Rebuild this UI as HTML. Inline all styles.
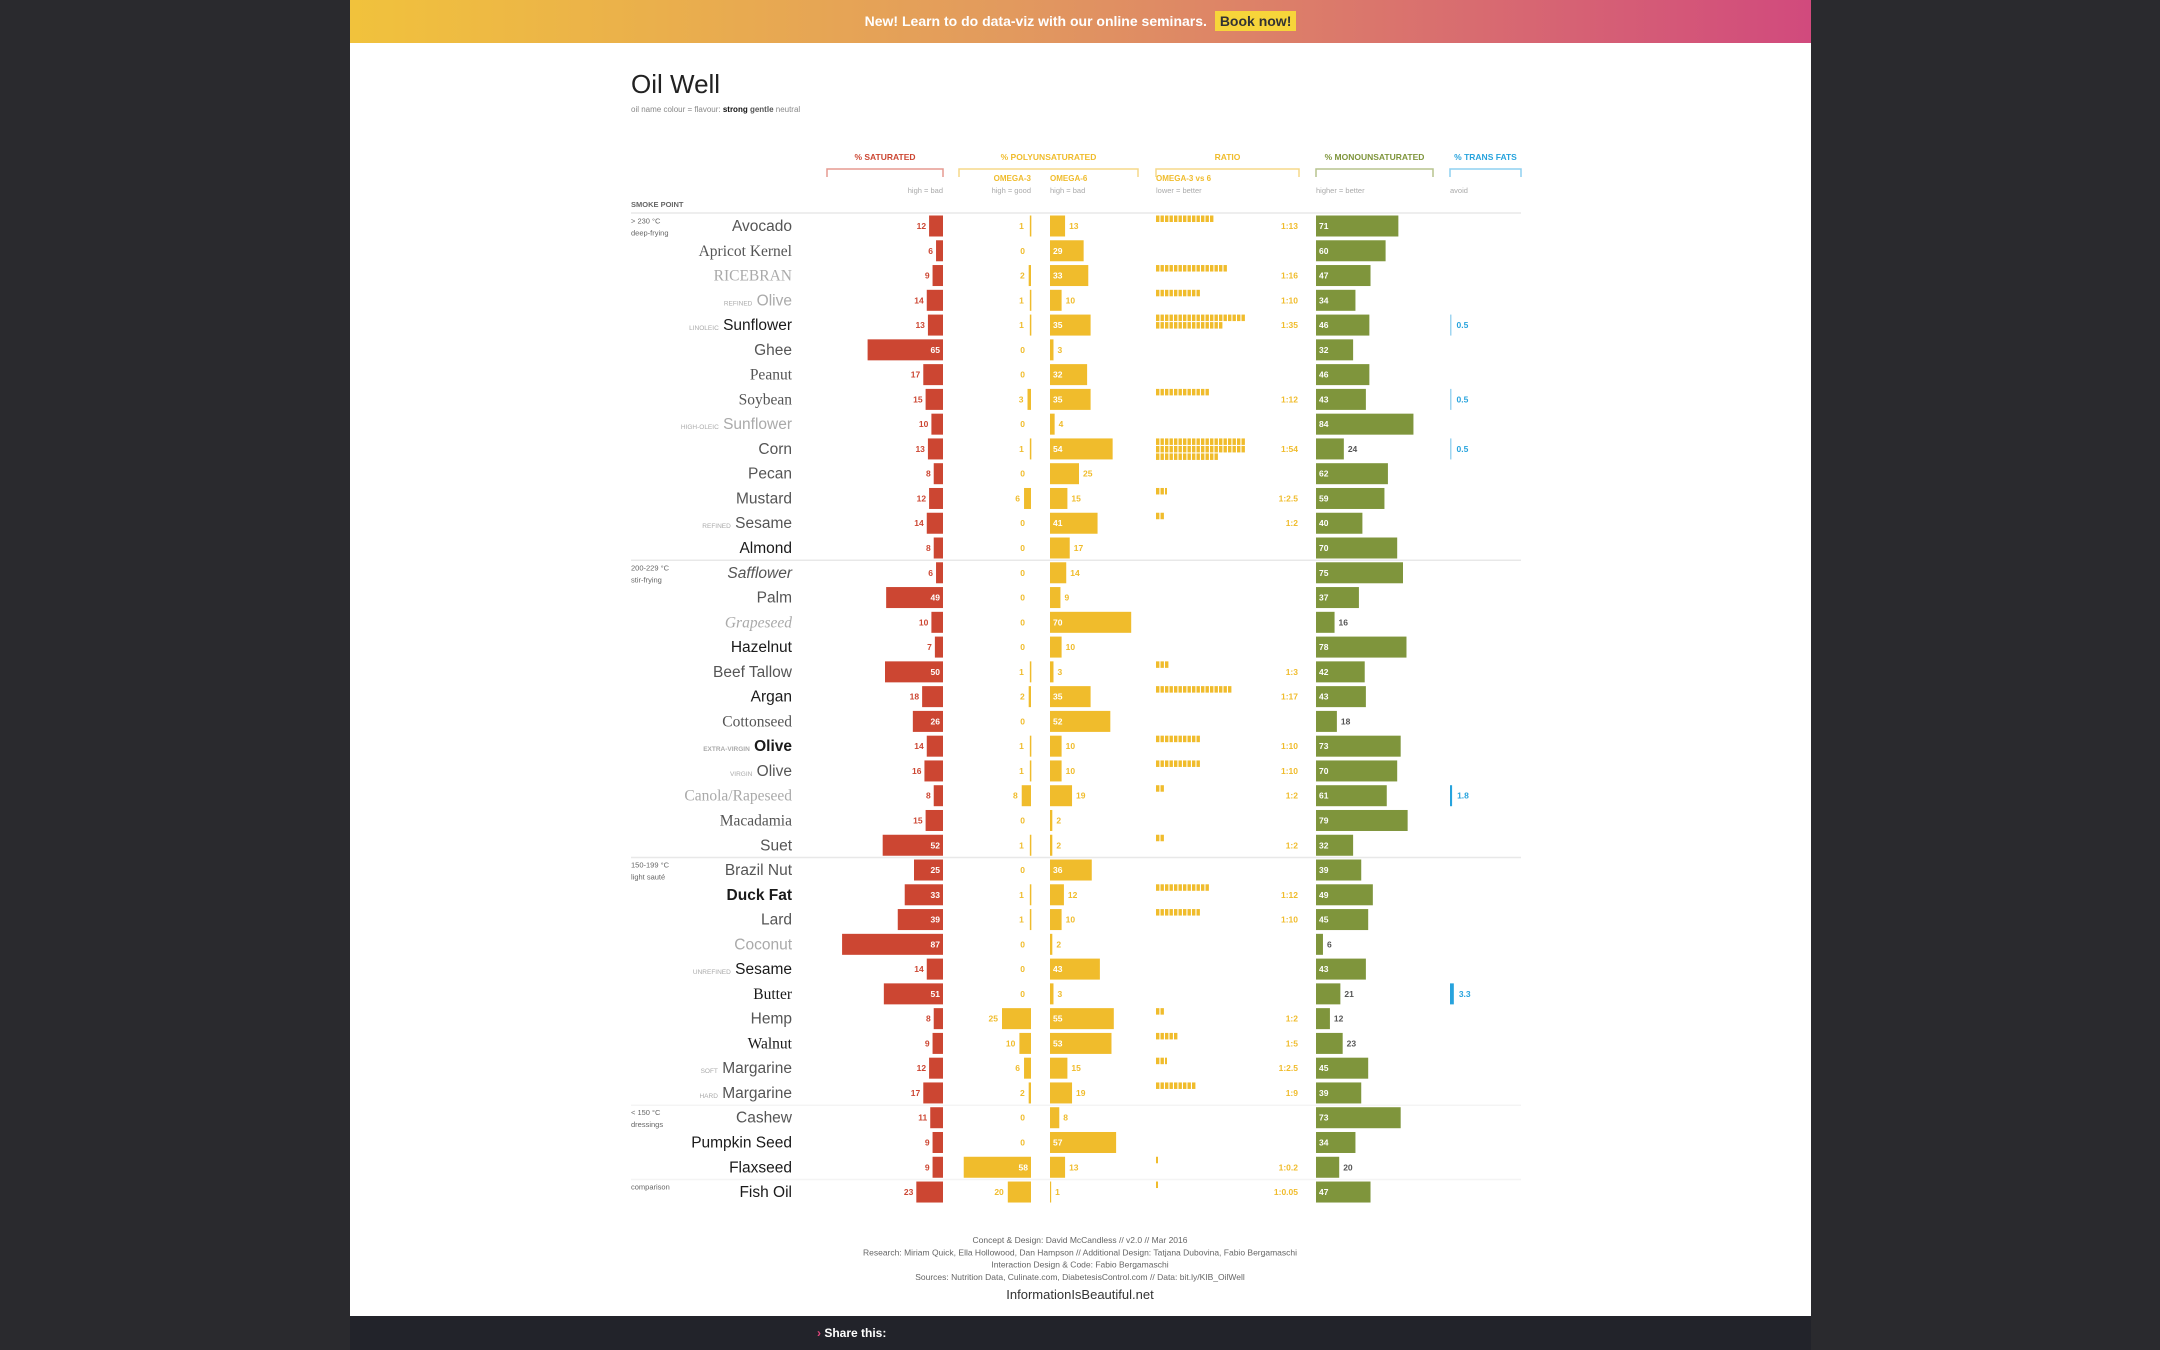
<!DOCTYPE html>
<html><head><meta charset="utf-8">
<style>
html,body{margin:0;padding:0;background:#2a2a2e;}
body{width:2160px;height:1350px;position:relative;overflow:hidden;font-family:"Liberation Sans",sans-serif;}
#page{position:absolute;left:350px;top:0;width:1461px;height:1316px;background:#fff;}
#banner{position:absolute;left:350px;top:0;width:1461px;height:43px;background:linear-gradient(90deg,#f1c23c 0%,#e29a5e 45%,#d14a7d 100%);color:#fff;font-size:14px;font-weight:bold;text-align:center;line-height:43px;}
#banner span.book{background:#f7d53a;color:#333;padding:2px 5px;margin-left:4px;}
#footbar{position:absolute;left:350px;top:1316px;width:1461px;height:34px;background:#22232a;color:#fff;font-size:12px;font-weight:bold;}
svg{position:absolute;left:0;top:0;}
</style></head>
<body>
<div id="page"></div>
<div id="banner">New! Learn to do data-viz with our online seminars. <span class="book">Book now!</span></div>
<div id="footbar"><span style="position:absolute;left:467px;top:10px"><span style="color:#e0457b">›</span> Share this:</span></div>
<svg id="chart" width="2160" height="1350"></svg>
<script>
const names=["Avocado","Apricot Kernel","RICEBRAN","Olive","Sunflower","Ghee","Peanut","Soybean","Sunflower","Corn","Pecan","Mustard","Sesame","Almond","Safflower","Palm","Grapeseed","Hazelnut","Beef Tallow","Argan","Cottonseed","Olive","Olive","Canola/Rapeseed","Macadamia","Suet","Brazil Nut","Duck Fat","Lard","Coconut","Sesame","Butter","Hemp","Walnut","Margarine","Margarine","Cashew","Pumpkin Seed","Flaxseed","Fish Oil"];
const prefixes=["","","","REFINED","LINOLEIC","","","","HIGH-OLEIC","","","","REFINED","","","","","","","","","EXTRA-VIRGIN","VIRGIN","","","","","","","","UNREFINED","","","","SOFT","HARD","","","",""];
const flavour=["g","g","n","n","s","g","g","g","n","g","g","g","g","s","g","g","n","s","g","s","g","s","g","n","g","g","g","s","g","n","s","s","g","s","g","g","g","s","s","s"];
const saturated=[12,6,9,14,13,65,17,15,10,13,8,12,14,8,6,49,10,7,50,18,26,14,16,8,15,52,25,33,39,87,14,51,8,9,12,17,11,9,9,23];
const omega3=[1,0,2,1,1,0,0,3,0,1,0,6,0,0,0,0,0,0,1,2,0,1,1,8,0,1,0,1,1,0,0,0,25,10,6,2,0,0,58,20];
const omega6=[13,29,33,10,35,3,32,35,4,54,25,15,41,17,14,9,70,10,3,35,52,10,10,19,2,2,36,12,10,2,43,3,55,53,15,19,8,57,13,1];
const mono=[71,60,47,34,46,32,46,43,84,24,62,59,40,70,75,37,16,78,42,43,18,73,70,61,79,32,39,49,45,6,43,21,12,23,45,39,73,34,20,47];
const trans=[0,0,0,0,0.5,0,0,0.5,0,0.5,0,0,0,0,0,0,0,0,0,0,0,0,0,1.8,0,0,0,0,0,0,0,3.3,0,0,0,0,0,0,0,0];
const ratio=[13,0,16,10,35,0,0,12,0,54,0,2.5,2,0,0,0,0,0,3,17,0,10,10,2,0,2,0,12,10,0,0,0,2,5,2.5,9,0,0,0.2,0.05];
const groupLabels=["> 230 °C","200-229 °C","150-199 °C","< 150 °C","comparison"];
const groupSub=["deep-frying","stir-frying","light sauté","dressings",""];
const groupStart=[0,14,26,36,39];

const NS="http://www.w3.org/2000/svg";
const svg=document.getElementById('chart');
const Y0=226, STEP=24.77, BH=21, K=1.16;
const SAT_R=943, O3_R=1031, O6_L=1050, MONO_L=1316, TR_L=1450, RAT_L=1156, RAT_R=1298;
const RED="#cc4632", YEL="#f0bc2c", GRN="#7f953c", BLUE="#27a3dd";
const yC=i=>Y0+i*STEP;
const xs=v=>v*K;
function el(tag,attrs,parent){const e=document.createElementNS(NS,tag);for(const k in attrs)e.setAttribute(k,attrs[k]);(parent||svg).appendChild(e);return e;}
function txt(x,y,s,attrs,parent){const t=el('text',Object.assign({x:x,y:y},attrs),parent);t.textContent=s;return t;}
const NUM={'font-family':'"Liberation Sans Narrow","Liberation Sans",sans-serif','font-size':8.5,'font-weight':'bold'};

let t=txt(631,93,"Oil Well",{'font-size':26,fill:'#222'});


t=el('text',{x:631,y:112,'font-size':8,fill:'#888'});


t.innerHTML='oil name colour = flavour: <tspan font-weight="bold" fill="#111">strong</tspan> <tspan font-weight="bold" fill="#555">gentle</tspan> neutral';

const heads=[["% SATURATED",827,943,RED,"#e59a90"],["% POLYUNSATURATED",959,1138,YEL,"#f5d98a"],["RATIO",1156,1299,YEL,"#f5d98a"],["% MONOUNSATURATED",1316,1433,GRN,"#b7c48e"],["% TRANS FATS",1450,1521,BLUE,"#8fd0f0"]];
heads.forEach(h=>{
  const g=el('g',{});
  
  
  txt((h[1]+h[2])/2,160,h[0],Object.assign({},NUM,{'font-size':8.5,fill:h[3],'text-anchor':'middle'}),g);
  el('path',{d:`M${h[1]},177 V169 H${h[2]} V177`,fill:'none',stroke:h[4],'stroke-width':1.5},g);
});
const subs=[["OMEGA-3",1031,'end',YEL,181],["OMEGA-6",1050,'start',YEL,181],["OMEGA-3 vs 6",1156,'start',YEL,181]];
subs.forEach(s=>{const e=txt(s[1],s[4],s[0],Object.assign({},NUM,{'font-size':8,fill:s[3],'text-anchor':s[2]}));

});
const hints=[["high = bad",943,'end'],["high = good",1031,'end'],["high = bad",1050,'start'],["lower = better",1156,'start'],["higher = better",1316,'start'],["avoid",1450,'start']];
hints.forEach(s=>{const e=txt(s[1],193,s[0],{'font-size':7.5,fill:'#aaa','text-anchor':s[2]});

});
t=txt(631,207,"SMOKE POINT",Object.assign({},NUM,{'font-size':7.5,fill:'#666'}));


let ln=el('line',{x1:631,x2:1521,y1:213,y2:213,stroke:'#eee','stroke-width':2});



groupStart.forEach((gs,k)=>{
  const top=yC(gs)-12.5;
  if(k>0){const l=el('line',{x1:631,x2:1521,y1:top,y2:top,stroke:k>2?'#f4f4f4':'#e8e8e8','stroke-width':1.5});
  
  }
  const a=txt(631,top+10,groupLabels[k],{'font-size':7.5,fill:'#666'});
  
  
  if(groupSub[k]){const b=txt(631,top+22,groupSub[k],{'font-size':7.5,fill:'#666'});
  
  }
});

const fcol={s:'#1a1a1a',g:'#555',n:'#aaa'};
const serifRows=[1,2,6,7,16,23,24,20,31,33];
names.forEach((n,i)=>{
  const c=yC(i), top=c-BH/2;
  const g=el('g',{});
  
  
  const nm=el('text',{x:792,y:c+5,'text-anchor':'end','font-size':15.5,fill:fcol[flavour[i]],'font-family':serifRows.includes(i)?'"Liberation Serif",serif':'"Liberation Sans Narrow","Liberation Sans",sans-serif','font-style':i==16||i==14?'italic':'normal','font-weight':(i==21||i==27)?'bold':'normal'},g);
  nm.innerHTML=(prefixes[i]?`<tspan font-size="6.5" fill="#aaa" font-family="Liberation Sans,sans-serif">${prefixes[i]}</tspan> `:'')+n;
  
  const sw=xs(saturated[i]);
  let r=el('rect',{x:SAT_R-sw,y:top,width:sw,height:BH,fill:RED},g);
  
  
  if(saturated[i]>23) txt(SAT_R-3,c+3,saturated[i],Object.assign({},NUM,{fill:'#fff','text-anchor':'end'}),g);
  else txt(SAT_R-sw-3,c+3,saturated[i],Object.assign({},NUM,{fill:RED,'text-anchor':'end'}),g);
  const o3w=xs(omega3[i]);
  if(omega3[i]>0){r=el('rect',{x:O3_R-o3w,y:top,width:Math.max(o3w,1.5),height:BH,fill:YEL},g);
  
  }
  if(omega3[i]>30) txt(O3_R-3,c+3,omega3[i],Object.assign({},NUM,{fill:'#fff','text-anchor':'end'}),g);
  else txt(O3_R-o3w-(omega3[i]>1?4:6),c+3,omega3[i],Object.assign({},NUM,{fill:YEL,'text-anchor':'end'}),g);
  const o6w=xs(omega6[i]);
  r=el('rect',{x:O6_L,y:top,width:o6w,height:BH,fill:YEL},g);
  
  
  if(omega6[i]>=29) txt(O6_L+3,c+3,omega6[i],Object.assign({},NUM,{fill:'#fff'}),g);
  else txt(O6_L+o6w+4,c+3,omega6[i],Object.assign({},NUM,{fill:YEL}),g);
  if(ratio[i]>0){
    const rg=el('g',{},g);
    
    
    const nb=Math.ceil(ratio[i]);
    for(let b=0;b<nb;b++){
      const frac=Math.min(1,ratio[i]-b);
      const bx=RAT_L+(b%20)*4.5, by=top+Math.floor(b/20)*7.5;
      el('rect',{x:bx,y:by,width:Math.max(2,3.4*frac),height:6.5,fill:YEL},rg);
    }
    txt(RAT_R,c+3,"1:"+ratio[i],Object.assign({},NUM,{fill:YEL,'text-anchor':'end'}),g);
  }
  const mw=xs(mono[i]);
  r=el('rect',{x:MONO_L,y:top,width:mw,height:BH,fill:GRN},g);
  
  
  if(mono[i]>=30) txt(MONO_L+3,c+3,mono[i],Object.assign({},NUM,{fill:'#fff'}),g);
  else txt(MONO_L+mw+4,c+3,mono[i],Object.assign({},NUM,{fill:'#555'}),g);
  if(trans[i]>0){
    const tw=Math.max(1.5,xs(trans[i]));
    r=el('rect',{x:TR_L,y:top,width:tw,height:BH,fill:trans[i]<1?'#9fd5f0':BLUE},g);
    
    
    txt(TR_L+tw+5,c+3,trans[i],Object.assign({},NUM,{fill:BLUE}),g);
  }
});

const foot=["Concept & Design: David McCandless // v2.0 // Mar 2016","Research: Miriam Quick, Ella Hollowood, Dan Hampson // Additional Design: Tatjana Dubovina, Fabio Bergamaschi","Interaction Design & Code: Fabio Bergamaschi","Sources: Nutrition Data, Culinate.com, DiabetesisControl.com // Data: bit.ly/KIB_OilWell"];
foot.forEach((s,k)=>{const e=txt(1080,1243+k*12.3,s,{'font-size':8.5,fill:'#666','text-anchor':'middle'});

});
t=txt(1080,1299,"InformationIsBeautiful.net",{'font-size':13,fill:'#333','text-anchor':'middle'});


</script>
</body></html>
